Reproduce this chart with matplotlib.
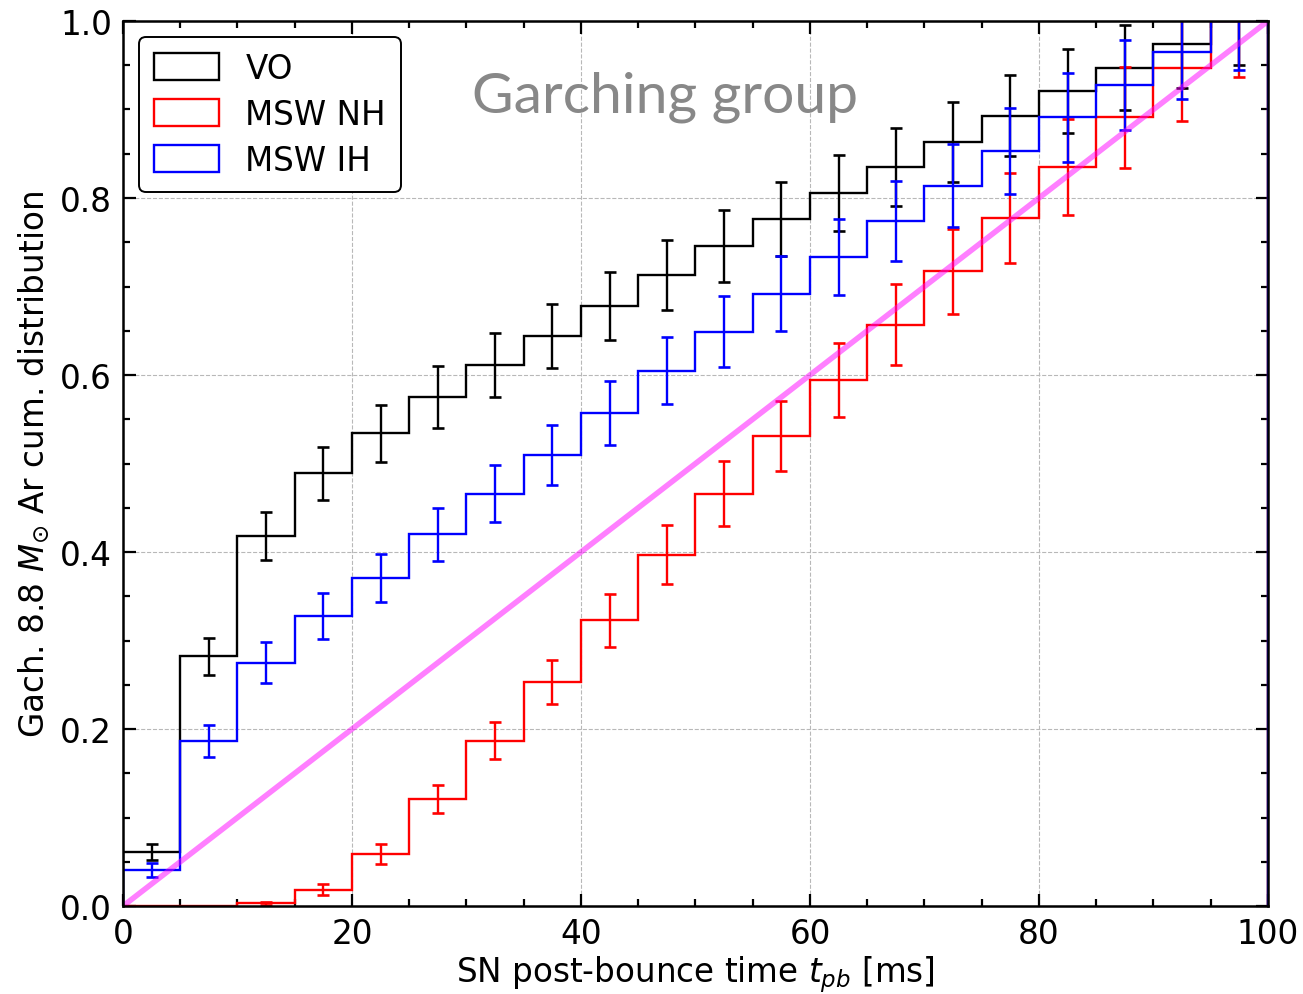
import numpy as np
import matplotlib
matplotlib.use("Agg")
import matplotlib.pyplot as plt
from matplotlib.ticker import MultipleLocator

# bin edges [ms]
edges = np.arange(0, 101, 5)
centers = edges[:-1] + 2.5

# cumulative fractions per bin
vo = [0.061, 0.282, 0.418, 0.489, 0.534, 0.575, 0.611, 0.644, 0.678, 0.713,
      0.746, 0.776, 0.806, 0.835, 0.863, 0.893, 0.921, 0.947, 0.974, 1.0]
vo_err = [0.009, 0.021, 0.027, 0.030, 0.032, 0.035, 0.036, 0.036, 0.038, 0.040,
          0.041, 0.042, 0.043, 0.044, 0.045, 0.046, 0.047, 0.048, 0.050, 0.050]

nh = [0.0, 0.0, 0.003, 0.0185, 0.059, 0.121, 0.187, 0.253, 0.323, 0.397,
      0.466, 0.531, 0.594, 0.657, 0.717, 0.777, 0.835, 0.891, 0.947, 1.0]
nh_err = [0.0, 0.0, 0.002, 0.006, 0.011, 0.016, 0.021, 0.025, 0.030, 0.033,
          0.037, 0.040, 0.042, 0.046, 0.048, 0.051, 0.054, 0.057, 0.060, 0.063]

ih = [0.041, 0.186, 0.275, 0.328, 0.371, 0.420, 0.466, 0.510, 0.557, 0.605,
      0.649, 0.692, 0.733, 0.774, 0.814, 0.853, 0.891, 0.928, 0.965, 1.0]
ih_err = [0.008, 0.018, 0.023, 0.026, 0.027, 0.030, 0.032, 0.034, 0.036, 0.038,
          0.040, 0.042, 0.043, 0.045, 0.047, 0.049, 0.050, 0.051, 0.053, 0.055]

series = [("VO", vo, vo_err, "black"),
          ("MSW NH", nh, nh_err, "red"),
          ("MSW IH", ih, ih_err, "blue")]

FS = 23.5

fig = plt.figure(figsize=(13.03, 9.95), dpi=100)
ax = fig.add_axes([0.0944, 0.0884, 0.8787, 0.8895])

for label, vals, err, col in series:
    ax.hist(centers, bins=edges, weights=vals, histtype="step",
            color=col, linewidth=1.7, label=label)
    ax.errorbar(centers, vals, yerr=err, fmt="none", ecolor=col,
                elinewidth=1.7, capsize=4.5, capthick=1.9)

ax.plot([0, 100], [0, 1], color="magenta", alpha=0.5, linewidth=4)

ax.text(47.3, 0.915, "Garching group", color="#888888", fontsize=41,
        family="Lato", ha="center", va="center")

ax.set_xlim(0, 100)
ax.set_ylim(0, 1)
ax.xaxis.set_major_locator(MultipleLocator(20))
ax.xaxis.set_minor_locator(MultipleLocator(5))
ax.yaxis.set_major_locator(MultipleLocator(0.2))
ax.yaxis.set_minor_locator(MultipleLocator(0.05))
ax.tick_params(which="both", direction="in", top=True, right=True,
               labelsize=FS, width=1.6)
ax.tick_params(which="major", length=9, pad=8)
ax.tick_params(which="minor", length=5)
for s in ax.spines.values():
    s.set_linewidth(1.8)
ax.grid(True, which="major", linestyle="--", color="#b8b8b8", linewidth=0.8)

ax.set_xlabel(r"SN post-bounce time $t_{pb}$ [ms]", fontsize=FS, labelpad=2)
ax.set_ylabel(r"Gach. 8.8 $M_{\odot}$ Ar cum. distribution", fontsize=FS, labelpad=6)

leg = ax.legend(loc="upper left", fontsize=FS, frameon=True, fancybox=True,
                edgecolor="black", framealpha=1, handlelength=2.0,
                handleheight=0.9, borderpad=0.45, labelspacing=0.4,
                handletextpad=0.8)
leg.get_frame().set_linewidth(1.4)

fig.savefig("out.png", dpi=100)
